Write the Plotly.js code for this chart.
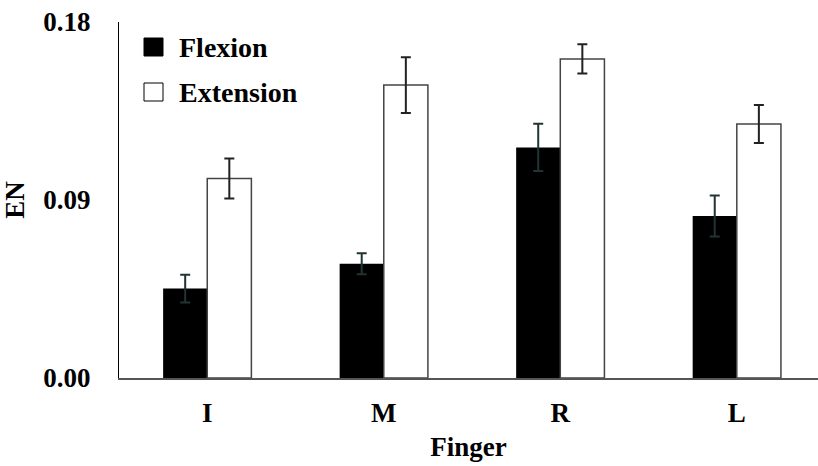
<!DOCTYPE html>
<html>
<head>
<meta charset="utf-8">
<script src="https://cdn.plot.ly/plotly-3.0.1.min.js"></script>
<style>
  html, body { margin: 0; padding: 0; background: #fff; }
  #chart { width: 818px; height: 466px; }
</style>
</head>
<body>
<div id="chart"></div>
<script>
// Finger categories and mean EN values with their error bars
const fingers = ['I', 'M', 'R', 'L'];
const seriesNames = ['Flexion', 'Extension'];
const flexion = [0.0452, 0.0578, 0.1166, 0.0819];
const flexionErr = [0.0070, 0.0053, 0.0120, 0.0104];
const extension = [0.1009, 0.1481, 0.1613, 0.1284];
const extensionErr = [0.0101, 0.0141, 0.0074, 0.0096];
const yTicks = [0, 0.09, 0.18];

const FONT = 'Liberation Serif';
const TXT = { family: FONT, size: 27, weight: 700, color: '#000' };
const LEG = { family: FONT, size: 28, weight: 700, color: '#000' };

const traces = [
  {
    type: 'bar', name: seriesNames[0], x: fingers, y: flexion,
    marker: { color: '#000000', line: { color: '#000000', width: 0 } },
    error_y: { type: 'data', array: flexionErr, visible: true, color: '#223333', thickness: 2, width: 5 }
  },
  {
    type: 'bar', name: seriesNames[1], x: fingers, y: extension,
    marker: { color: '#ffffff', line: { color: '#444444', width: 1.5 } },
    error_y: { type: 'data', array: extensionErr, visible: true, color: '#222222', thickness: 2, width: 5 }
  }
];

// Legend: square swatches with bold labels in the upper-left corner
const swatchFill = ['#000000', '#ffffff'];
const legendRows = [47, 92];  // pixel rows from top of the figure
const H = 466, mT = 22, mB = 88, mL = 119, plotW = 699;
const plotH = H - mT - mB;
function paperY(py) { return 1 - (py - mT) / plotH; }
function paperX(px) { return (px - mL) / plotW; }

const shapes = seriesNames.map((n, i) => ({
  type: 'rect', xref: 'paper', yref: 'paper', layer: 'above',
  x0: paperX(144), x1: paperX(163),
  y0: paperY(legendRows[i] + 9), y1: paperY(legendRows[i] - 9),
  fillcolor: swatchFill[i], line: { color: '#000', width: 1 }
}));
const annotations = seriesNames.map((n, i) => ({
  text: n, xref: 'paper', yref: 'paper', showarrow: false,
  x: paperX(177), xanchor: 'left',
  y: paperY(legendRows[i]), yanchor: 'middle',
  font: LEG
}));

const layout = {
  width: 818, height: 466,
  margin: { l: mL, r: 0, t: mT, b: mB },
  paper_bgcolor: '#fff', plot_bgcolor: '#fff',
  showlegend: false,
  barmode: 'group', bargap: 0.5, bargroupgap: 0,
  font: TXT,
  xaxis: {
    type: 'category', range: [-0.5, 3.46],
    showline: true, linecolor: '#555', linewidth: 2,
    showgrid: false, zeroline: false, ticks: '',
    ticklabelstandoff: 10,
    tickfont: TXT,
    title: { text: 'Finger', font: TXT, standoff: 10 }
  },
  yaxis: {
    range: [0, 0.18], tickvals: yTicks, tickformat: '.2f',
    showline: true, linecolor: '#000', linewidth: 1,
    showgrid: false, zeroline: false, ticks: '',
    ticklabelstandoff: 22,
    tickfont: TXT,
    title: { text: 'EN', font: TXT, standoff: 12 }
  },
  shapes: shapes,
  annotations: annotations
};

Plotly.newPlot('chart', traces, layout, { displayModeBar: false, staticPlot: true });
</script>
</body>
</html>
